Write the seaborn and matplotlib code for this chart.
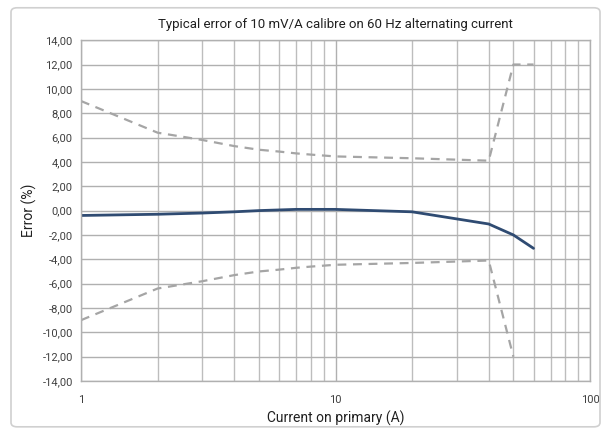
import numpy as np
import pandas as pd
import matplotlib
matplotlib.use("Agg")
import matplotlib.pyplot as plt
import matplotlib.ticker as mticker
from matplotlib.patches import FancyBboxPatch
import seaborn as sns

# values
current_typ = [1, 2, 3, 4, 5, 7, 10, 20, 40, 50, 60]
error_typ = [-0.4, -0.3, -0.2, -0.1, 0.0, 0.1, 0.1, -0.1, -1.1, -2.0, -3.1]

current_up = [1, 2, 3, 4, 5, 6, 7, 8, 10, 20, 40, 50, 60]
error_up = [9.0, 6.4, 5.8, 5.3, 5.0, 4.85, 4.7, 4.6, 4.45, 4.3, 4.1, 12.0, 12.0]

current_low = [1, 2, 3, 4, 5, 6, 7, 8, 10, 20, 40, 50]
error_low = [-9.0, -6.4, -5.8, -5.3, -5.0, -4.85, -4.7, -4.6, -4.45, -4.3, -4.1, -12.0]

y_ticks = list(range(-14, 15, 2))

sns.set_theme(style="white")
plt.rcParams["font.family"] = ["Roboto", "DejaVu Sans"]

fig = plt.figure(figsize=(6.11, 4.32), dpi=100)
ax = fig.add_axes([0.1326, 0.118, 0.833, 0.789])

df_typ = pd.DataFrame({"current": current_typ, "error": error_typ})
df_up = pd.DataFrame({"current": current_up, "error": error_up})
df_low = pd.DataFrame({"current": current_low, "error": error_low})

sns.lineplot(data=df_up, x="current", y="error", ax=ax, color="#a5a5a5",
             linewidth=1.6, linestyle=(0, (4, 3)), sort=False)
sns.lineplot(data=df_low, x="current", y="error", ax=ax, color="#a5a5a5",
             linewidth=1.6, linestyle=(0, (4, 3)), sort=False)
sns.lineplot(data=df_typ, x="current", y="error", ax=ax, color="#2f4b72",
             linewidth=2.0, sort=False)

ax.set_xscale("log")
ax.set_xlim(1, 100)
ax.set_ylim(-14, 14)
ax.set_yticks(y_ticks)
ax.yaxis.set_major_formatter(mticker.FuncFormatter(lambda v, p: f"{v:.2f}".replace(".", ",")))
ax.xaxis.set_major_formatter(mticker.FuncFormatter(lambda v, p: f"{v:g}"))
ax.xaxis.set_minor_locator(mticker.LogLocator(base=10, subs=np.arange(2, 10)))
ax.xaxis.set_minor_formatter(mticker.NullFormatter())

ax.grid(True, which="major", color="#b0b0b0", linewidth=1.0)
ax.grid(True, which="minor", axis="x", color="#bdbdbd", linewidth=1.0)
ax.set_axisbelow(True)
for s in ax.spines.values():
    s.set_color("#b0b0b0")
    s.set_linewidth(1.0)

ax.tick_params(axis="y", which="both", length=0, labelsize=8, colors="#404040", pad=6)
ax.tick_params(axis="x", which="both", length=0, labelsize=8, colors="#404040", pad=10)
ax.set_xlabel("Current on primary (A)", fontsize=10, color="#202020", labelpad=4)
ax.set_ylabel("Error (%)", fontsize=10, color="#202020", labelpad=4)
ax.set_title("Typical error of 10 mV/A calibre on 60 Hz alternating current",
             fontsize=9.5, color="#202020", pad=9)

border = FancyBboxPatch((0.018, 0.012), 0.964, 0.97, boxstyle="round,pad=0,rounding_size=0.01",
                        transform=fig.transFigure, fill=False, edgecolor="#d0d0d0", linewidth=1.2)
fig.patches.append(border)

fig.savefig("out.png", dpi=100)
